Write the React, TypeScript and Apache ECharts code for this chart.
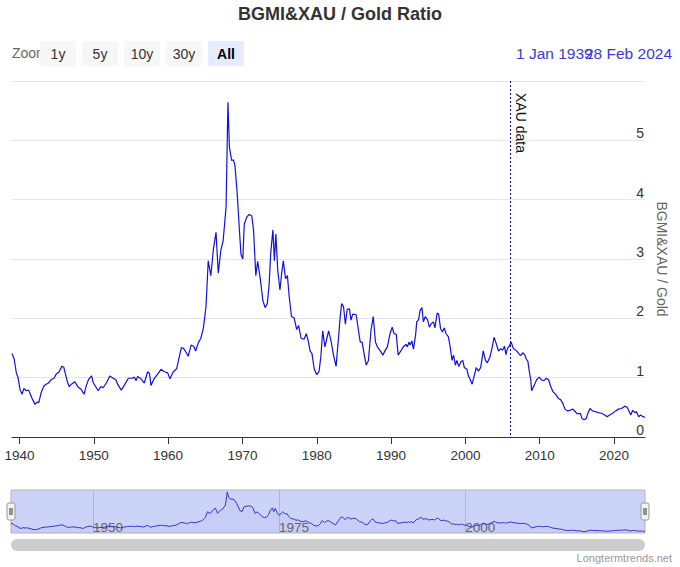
import React, { useEffect, useRef } from "react";
import * as echarts from "echarts";

const chartTitle = "BGMI&XAU / Gold Ratio";
const yAxisName = "BGMI&XAU / Gold";
const markLabel = "XAU data";
const xauStartYear = 2006.0;
const firstYear = 1939.0;
const lastYear = 2024.16;
const rangeFrom = "1 Jan 1939";
const rangeTo = "28 Feb 2024";
const creditText = "Longtermtrends.net";
const zoomButtons = ["1y", "5y", "10y", "30y", "All"];
const xTickYears = [1940, 1950, 1960, 1970, 1980, 1990, 2000, 2010, 2020];
const navTickYears = [1950, 1975, 2000];

const years = [
  1939.0, 1939.3, 1939.6, 1939.8, 1940.1, 1940.35, 1940.6, 1940.9, 1941.25, 1941.4,
  1941.7, 1942.1, 1942.4, 1942.6, 1942.95, 1943.3, 1943.6, 1943.9, 1944.3, 1944.65,
  1944.95, 1945.3, 1945.7, 1945.95, 1946.2, 1946.45, 1946.7, 1947.0, 1947.45, 1947.9,
  1948.25, 1948.7, 1949.0, 1949.3, 1949.7, 1949.95, 1950.2, 1950.6, 1950.95, 1951.25,
  1951.7, 1952.15, 1952.6, 1953.0, 1953.2, 1953.7, 1954.1, 1954.65, 1955.2, 1955.45,
  1955.7, 1955.9, 1956.35, 1956.8, 1957.25, 1957.5, 1957.7, 1958.15, 1958.6, 1959.05,
  1959.5, 1959.95, 1960.25, 1960.7, 1961.15, 1961.5, 1961.8, 1962.1, 1962.45, 1962.7,
  1963.1, 1963.45, 1963.7, 1964.1, 1964.4, 1964.75, 1965.1, 1965.4, 1965.75, 1966.1,
  1966.45, 1966.75, 1967.1, 1967.4, 1967.8, 1968.05, 1968.25, 1968.55, 1968.8, 1969.0,
  1969.3, 1969.6, 1969.8, 1970.05, 1970.25, 1970.6, 1970.9, 1971.25, 1971.5, 1971.8,
  1972.05, 1972.4, 1972.75, 1973.05, 1973.35, 1973.6, 1973.8, 1974.1, 1974.3, 1974.5,
  1974.75, 1975.05, 1975.3, 1975.5, 1975.8, 1976.05, 1976.3, 1976.6, 1976.95, 1977.3,
  1977.55, 1977.9, 1978.3, 1978.6, 1978.85, 1979.1, 1979.35, 1979.65, 1980.0, 1980.3,
  1980.55, 1980.8, 1981.1, 1981.35, 1981.6, 1981.95, 1982.25, 1982.6, 1982.9, 1983.15,
  1983.35, 1983.6, 1983.85, 1984.1, 1984.4, 1984.6, 1984.85, 1985.3, 1985.55, 1985.85,
  1986.1, 1986.4, 1986.65, 1986.95, 1987.3, 1987.6, 1987.9, 1988.15, 1988.5, 1988.9,
  1989.2, 1989.5, 1989.85, 1990.15, 1990.4, 1990.7, 1990.95, 1991.3, 1991.65, 1992.0,
  1992.2, 1992.4, 1992.55, 1992.8, 1993.0, 1993.3, 1993.45, 1993.7, 1993.9, 1994.15,
  1994.35, 1994.6, 1994.9, 1995.15, 1995.4, 1995.7, 1995.9, 1996.2, 1996.4, 1996.65,
  1996.9, 1997.15, 1997.4, 1997.7, 1997.95, 1998.2, 1998.4, 1998.65, 1998.85, 1999.1,
  1999.4, 1999.65, 1999.85, 2000.2, 2000.4, 2000.65, 2000.9, 2001.2, 2001.45, 2001.75,
  2002.05, 2002.4, 2002.7, 2002.95, 2003.3, 2003.6, 2003.85, 2004.1, 2004.45, 2004.75,
  2005.0, 2005.25, 2005.45, 2005.65, 2005.9, 2006.15, 2006.45, 2006.8, 2007.1, 2007.4,
  2007.75, 2008.0, 2008.2, 2008.4, 2008.6, 2008.8, 2008.9, 2009.25, 2009.6, 2009.95,
  2010.25, 2010.55, 2010.9, 2011.2, 2011.45, 2011.8, 2012.2, 2012.5, 2012.8, 2013.1,
  2013.4, 2013.7, 2014.1, 2014.45, 2014.75, 2015.05, 2015.45, 2015.7, 2015.95, 2016.25,
  2016.5, 2016.75, 2017.1, 2017.45, 2017.85, 2018.3, 2018.75, 2019.05, 2019.4, 2019.8,
  2020.2, 2020.6, 2021.0, 2021.45, 2021.75, 2022.0, 2022.25, 2022.5, 2022.8, 2023.0,
  2023.3, 2023.55, 2023.8, 2024.15,
];

const ratio = [
  1.41, 1.31, 1.07, 1.01, 0.79, 0.72, 0.82, 0.78, 0.79, 0.74,
  0.65, 0.55, 0.59, 0.58, 0.76, 0.86, 0.89, 0.91, 0.97, 0.99,
  1.06, 1.09, 1.19, 1.18, 1.06, 0.93, 0.85, 0.89, 0.93, 0.84,
  0.81, 0.72, 0.87, 0.97, 1.03, 0.91, 0.86, 0.78, 0.85, 0.83,
  0.91, 1.03, 0.99, 0.96, 0.89, 0.79, 0.87, 0.99, 0.99, 1.01,
  0.95, 1.02, 0.98, 0.91, 1.10, 1.07, 0.87, 0.99, 1.06, 1.14,
  1.10, 1.08, 0.98, 1.10, 1.15, 1.35, 1.51, 1.49, 1.42, 1.36,
  1.55, 1.53, 1.45, 1.60, 1.66, 1.84, 2.2, 2.97, 2.72, 3.17,
  3.45, 2.76, 3.15, 3.3, 3.87, 5.64, 4.88, 4.66, 4.67, 4.57,
  4.10, 3.48, 3.08, 3.00, 3.59, 3.71, 3.75, 3.73, 3.48, 2.72,
  2.96, 2.67, 2.30, 2.18, 2.25, 2.58, 3.09, 3.49, 2.97, 3.42,
  2.81, 2.48, 2.78, 2.97, 2.67, 2.72, 2.36, 2.03, 2.01, 1.81,
  1.88, 1.66, 1.65, 1.74, 1.62, 1.45, 1.41, 1.15, 1.05, 1.10,
  1.35, 1.79, 1.52, 1.66, 1.79, 1.60, 1.38, 1.19, 1.63, 2.02,
  2.25, 2.20, 1.90, 2.15, 2.16, 1.97, 2.07, 2.06, 1.85, 1.60,
  1.60, 1.38, 1.21, 1.29, 1.80, 2.03, 1.60, 1.52, 1.46, 1.38,
  1.46, 1.52, 1.74, 1.85, 1.74, 1.73, 1.38, 1.45, 1.52, 1.56,
  1.52, 1.60, 1.55, 1.62, 1.48, 1.72, 1.94, 1.98, 2.13, 2.18,
  1.94, 2.03, 1.98, 1.85, 1.91, 1.94, 1.84, 2.09, 2.07, 1.83,
  1.77, 1.84, 1.74, 1.69, 1.52, 1.29, 1.38, 1.21, 1.29, 1.19,
  1.27, 1.29, 1.17, 1.14, 1.03, 0.97, 0.89, 1.04, 1.17, 1.11,
  1.17, 1.45, 1.29, 1.25, 1.35, 1.51, 1.68, 1.59, 1.45, 1.49,
  1.46, 1.53, 1.39, 1.49, 1.53, 1.60, 1.49, 1.46, 1.42, 1.37,
  1.42, 1.38, 1.31, 1.28, 1.10, 0.96, 0.78, 0.87, 0.97, 1.01,
  0.96, 0.95, 0.99, 0.96, 0.86, 0.76, 0.71, 0.65, 0.63, 0.57,
  0.47, 0.44, 0.45, 0.47, 0.43, 0.39, 0.40, 0.31, 0.29, 0.31,
  0.41, 0.48, 0.44, 0.43, 0.41, 0.40, 0.37, 0.34, 0.37, 0.40,
  0.44, 0.47, 0.48, 0.52, 0.50, 0.44, 0.37, 0.45, 0.41, 0.43,
  0.34, 0.37, 0.35, 0.33,
];

export default function App() {
  const ref = useRef<HTMLDivElement>(null);

  useEffect(() => {
    if (!ref.current) return;
    const chart = echarts.init(ref.current, null, { renderer: "svg" });
    const font = "'Liberation Sans', Arial, Helvetica, sans-serif";
    const data = years.map((y, i) => [y, ratio[i]]);
    const yearLabel = (v: number) => String(Math.round(v));

    const navLeft = 11;
    const navRight = 645;
    const navTop = 490;
    const navHeight = 43;

    const buttonGraphics = zoomButtons.map((label, i) => {
      const selected = label === "All";
      return {
        type: "group",
        left: 40 + i * 42,
        top: 41,
        children: [
          {
            type: "rect",
            shape: { x: 0, y: 0, width: 36, height: 25, r: 2 },
            style: { fill: selected ? "#e6ebff" : "#f7f7f7" },
          },
          {
            type: "text",
            x: 18,
            y: 13,
            style: {
              text: label,
              fill: selected ? "#000" : "#333",
              font: `${selected ? "bold " : ""}14px ${font}`,
              align: "center",
              verticalAlign: "middle",
            },
          },
        ],
      };
    });

    const handle = (cx: number) => ({
      type: "group",
      x: cx - 4,
      y: 503,
      children: [
        {
          type: "rect",
          shape: { x: 0, y: 0, width: 8, height: 17, r: 2 },
          style: { fill: "#f2f2f2", stroke: "#999", lineWidth: 1 },
        },
        { type: "line", shape: { x1: 3, y1: 5, x2: 3, y2: 12 }, style: { stroke: "#333", lineWidth: 1 } },
        { type: "line", shape: { x1: 5, y1: 5, x2: 5, y2: 12 }, style: { stroke: "#333", lineWidth: 1 } },
      ],
    });

    const option: any = {
      animation: false,
      backgroundColor: "#ffffff",
      textStyle: { fontFamily: font },
      title: {
        text: chartTitle,
        left: "center",
        top: 0,
        textStyle: { fontSize: 18, fontWeight: "bold", color: "#333333", fontFamily: font },
      },
      grid: [
        { left: 12, right: 35, top: 81, bottom: 130 },
        {
          left: navLeft,
          right: 680 - navRight,
          top: navTop,
          height: navHeight,
          show: true,
          backgroundColor: "#ccd3f9",
          borderColor: "#b3b3b3",
          borderWidth: 1,
        },
      ],
      xAxis: [
        {
          type: "value",
          gridIndex: 0,
          min: firstYear,
          max: lastYear,
          axisLine: { show: true, lineStyle: { color: "#333", width: 1 } },
          axisTick: { show: true, customValues: xTickYears, length: 7, lineStyle: { color: "#333" } },
          axisLabel: {
            customValues: xTickYears,
            formatter: yearLabel,
            color: "#333",
            fontSize: 13.5,
            margin: 11,
            fontFamily: font,
          },
          splitLine: { show: false },
        },
        {
          type: "value",
          gridIndex: 1,
          min: firstYear,
          max: lastYear,
          axisLine: { show: false },
          axisTick: { show: false, customValues: navTickYears },
          axisLabel: {
            customValues: navTickYears,
            formatter: yearLabel,
            inside: true,
            align: "left",
            color: "#666",
            fontSize: 13.5,
            margin: -1,
            fontFamily: font,
          },
          splitLine: { show: true, lineStyle: { color: "#aeb3d9", width: 1 } },
        },
      ],
      yAxis: [
        {
          type: "value",
          gridIndex: 0,
          position: "right",
          min: 0,
          max: 6,
          interval: 1,
          axisLine: { show: false },
          axisTick: { show: false },
          axisLabel: {
            inside: true,
            verticalAlign: "bottom",
            color: "#333",
            fontSize: 14,
            margin: 1,
            showMaxLabel: false,
            fontFamily: font,
          },
          splitLine: { show: true, lineStyle: { color: "#e6e6e6", width: 1 } },
          name: yAxisName,
          nameLocation: "middle",
          nameRotate: -90,
          nameGap: 8,
          nameTextStyle: { color: "#666", fontSize: 14, fontFamily: font },
        },
        {
          type: "value",
          gridIndex: 1,
          min: 0.1,
          max: 5.9,
          show: false,
        },
      ],
      series: [
        {
          type: "line",
          xAxisIndex: 0,
          yAxisIndex: 0,
          data,
          showSymbol: false,
          lineStyle: { color: "#1111d9", width: 1.2 },
          markLine: {
            silent: true,
            symbol: ["none", "none"],
            lineStyle: { color: "#0a0aa8", type: [2, 2], width: 1 },
            label: {
              show: true,
              formatter: markLabel,
              position: "insideStartTop",
              color: "#111",
              fontSize: 14,
              fontFamily: font,
              distance: [12, 4],
            },
            data: [[{ coord: [xauStartYear, 6] }, { coord: [xauStartYear, 0] }]],
          },
        },
        {
          type: "line",
          xAxisIndex: 1,
          yAxisIndex: 1,
          data,
          showSymbol: false,
          lineStyle: { color: "#3535c8", width: 1 },
          areaStyle: { color: "rgba(51,51,204,0.05)" },
        },
      ],
      graphic: [
        {
          type: "text",
          left: 12,
          top: 46,
          style: { text: "Zoom", fill: "#666", font: `14px ${font}` },
        },
        ...buttonGraphics,
        {
          type: "text",
          left: 516,
          top: 45,
          style: { text: rangeFrom, fill: "#3b3bd0", font: `15.5px ${font}` },
        },
        {
          type: "text",
          right: 8,
          top: 45,
          style: { text: rangeTo, fill: "#3b3bd0", font: `15.5px ${font}` },
        },
        {
          type: "rect",
          shape: { x: navLeft, y: 539, width: navRight - navLeft, height: 12, r: 6 },
          style: { fill: "#cccccc" },
        },
        handle(navLeft),
        handle(navRight),
        {
          type: "text",
          right: 8,
          top: 552,
          style: { text: creditText, fill: "#999", font: `11px ${font}` },
        },
      ],
    };

    chart.setOption(option);
    return () => chart.dispose();
  }, []);

  return (
    <div
      ref={ref}
      style={{ position: "absolute", left: 0, top: 0, width: 680, height: 567 }}
    />
  );
}
